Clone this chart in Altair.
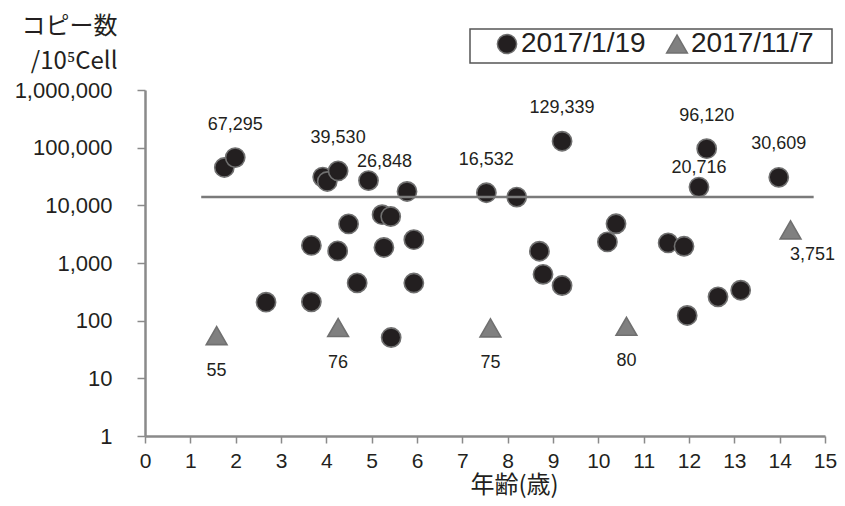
import altair as alt
import pandas as pd

# --- data ---
circle_age = [1.75, 1.99, 2.67, 3.67, 3.67, 3.92, 4.02, 4.26, 4.25, 4.49, 4.68, 4.93,
              5.23, 5.42, 5.27, 5.43, 5.78, 5.93, 5.93, 7.53, 8.20, 8.70, 8.78, 9.20,
              9.20, 10.20, 10.39, 11.54, 11.89, 11.96, 12.22, 12.39, 12.64, 13.14, 13.98]
circle_copies = [45300, 67295, 209, 2020, 212, 30900, 25900, 39530, 1620, 4760, 452, 26848,
                 6880, 6400, 1860, 51, 17400, 2540, 450, 16532, 13900, 1600, 637, 407,
                 129339, 2320, 4790, 2230, 1950, 123, 20716, 96120, 259, 337, 30609]

triangle_age = [1.58, 4.26, 7.62, 10.62, 14.24]
triangle_copies = [55, 76, 75, 80, 3751]

series_names = ["2017/1/19", "2017/11/7"]

# labelled points
label_age = [1.99, 4.26, 4.93, 7.53, 9.20, 12.39, 12.22, 13.98, 1.58, 4.26, 7.62, 10.62, 14.24]
label_copies = [67295, 39530, 26848, 16532, 129339, 96120, 20716, 30609, 55, 76, 75, 80, 3751]
label_place = ["above", "above", "upright", "above", "above", "above", "near", "above",
               "below", "below", "below", "below", "lowright"]

# horizontal reference line
line_age_start = [1.24]
line_age_end = [14.75]
line_copies = [14000]

x_ticks = list(range(0, 16))
y_ticks = [1, 10, 100, 1000, 10000, 100000, 1000000]

# --- tables ---
pts = pd.concat([
    pd.DataFrame({"age": circle_age, "copies": circle_copies, "series": series_names[0]}),
    pd.DataFrame({"age": triangle_age, "copies": triangle_copies, "series": series_names[1]}),
], ignore_index=True)

labels = pd.DataFrame({"age": label_age, "copies": label_copies, "place": label_place})
line_df = pd.DataFrame({"age": line_age_start, "age2": line_age_end, "copies": line_copies})

FONT = "Liberation Sans"
CJK = "Noto Sans CJK JP"

x_scale = alt.Scale(domain=[0, 15], nice=False)
y_scale = alt.Scale(type="log", domain=[1, 1000000], nice=False)

x_enc = alt.X("age:Q", scale=x_scale,
              axis=alt.Axis(values=x_ticks, format="d", title="年齢(歳)",
                            titleFont=CJK, titleFontSize=24, titleFontWeight="normal",
                            titleX=369, titleY=49, titleAlign="center", titleBaseline="middle",
                            titleColor="#231f20", labelFlush=False,
                            labelFont=FONT, labelFontSize=21, labelColor="#231f20",
                            labelPadding=7, tickSize=7, grid=False))
y_enc = alt.Y("copies:Q", scale=y_scale,
              axis=alt.Axis(values=y_ticks, format=",",
                            title=["コピー数", "/10⁵Cell"],
                            titleFont=CJK, titleFontSize=24, titleFontWeight="normal",
                            titleAngle=0, titleAlign="right", titleBaseline="top",
                            titleX=-28, titleY=-76, titleLineHeight=35, titleColor="#231f20",
                            labelFlush=False,
                            labelFont=FONT, labelFontSize=22, labelColor="#231f20",
                            labelPadding=25, tickSize=8, grid=False))

legend = alt.Legend(title=None, orient="none", legendX=348, legendY=-60,
                    direction="horizontal", labelFontSize=28, labelFont=FONT,
                    labelColor="#231f20", symbolSize=260, labelOffset=0,
                    columnPadding=17)

# legend frame (decoration only)
frame = alt.Chart(line_df).mark_rect(fill="white", stroke="#555555", strokeWidth=1.5).encode(
    x=alt.value(325), x2=alt.value(687), y=alt.value(-61), y2=alt.value(-27))

base_line = alt.Chart(line_df).mark_rule(color="#7a7a7a", strokeWidth=2.5).encode(
    x=alt.X("age:Q", scale=x_scale), x2="age2:Q",
    y=alt.Y("copies:Q", scale=y_scale))

points = alt.Chart(pts).mark_point(filled=True, opacity=1, stroke="#707070", strokeWidth=1.6).encode(
    x=x_enc, y=y_enc,
    shape=alt.Shape("series:N", scale=alt.Scale(domain=series_names, range=["circle", "triangle-up"]),
                    legend=legend),
    color=alt.Color("series:N", scale=alt.Scale(domain=series_names, range=["#231f20", "#808080"]),
                    legend=legend),
    size=alt.Size("series:N", scale=alt.Scale(domain=series_names, range=[370, 430]), legend=None),
)

place_offsets = {"above": (0, -33), "upright": (16, -19), "near": (0, -19),
                 "below": (0, 35), "lowright": (22, 25)}

label_layers = []
for place, (dx, dy) in place_offsets.items():
    label_layers.append(
        alt.Chart(labels).transform_filter(alt.datum.place == place)
        .transform_calculate(txt="format(datum.copies, ',')")
        .mark_text(font=FONT, fontSize=18, color="#231f20", dx=dx, dy=dy, baseline="middle")
        .encode(x=alt.X("age:Q", scale=x_scale), y=alt.Y("copies:Q", scale=y_scale), text="txt:N")
    )

chart = alt.layer(frame, points, base_line, *label_layers).properties(
    width=680, height=346,
    autosize=alt.AutoSizeParams(type="none"),
    padding={"left": 137, "top": 82, "right": 12, "bottom": 62},
    background="white",
).configure_view(stroke=None).configure_axis(
    domainColor="#8a8a8a", domainWidth=2.5, tickColor="#8a8a8a", tickWidth=1.5,
)

chart.save("out.html", embed_options={"renderer": "svg", "actions": False})
